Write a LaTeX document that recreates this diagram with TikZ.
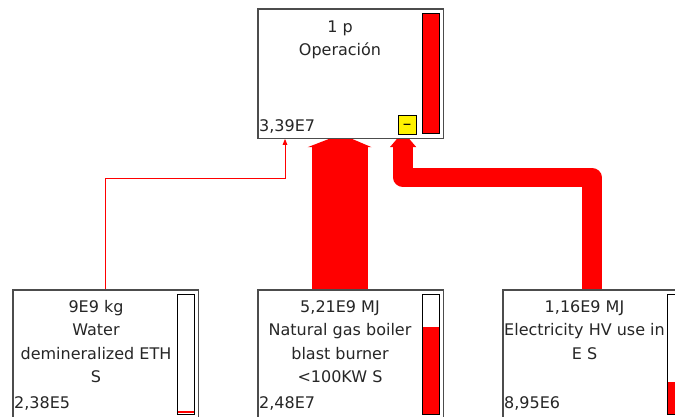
\documentclass[tikz,border=0pt]{standalone}
\usepackage{fontspec}
\setmainfont{DejaVu Sans}
\usetikzlibrary{calc,arrows.meta}
\begin{document}
\begin{tikzpicture}[x=1pt,y=-1pt,
  box/.style={draw=black!70, line width=1.2pt, fill=white, rectangle, minimum width=184pt, minimum height=128pt, inner sep=0pt, anchor=north west},
  bar/.style={draw=black, line width=1pt},
  txt/.style={font=\fontsize{16}{19}\selectfont, text=black!85, inner sep=0pt, anchor=base},
  val/.style={txt, anchor=base west},
]
\useasboundingbox (0,0) rectangle (675,416);
\clip (0,0) rectangle (675,416);
% boxes (positions only, drawn later)
\path (258,9) node[box, draw=none, fill=none] (top) {}
      (13,290) node[box, draw=none, fill=none] (wat) {}
      (258,290) node[box, draw=none, fill=none] (gas) {}
      (503,290) node[box, draw=none, fill=none] (ele) {};
% connectors
\coordinate (lj) at (285,178);
\draw[red, line width=1pt, -{Triangle[width=4.5pt,length=6pt]}, shorten >=0.6pt] (wat.north) |- (lj) -- (lj |- top.south);
\coordinate (gx) at ($(top.south)+(-11,9)$);
\draw[red, line width=56pt] (gx |- gas.north) -- (gx);
\fill[red] ($(gx)+(-32,0)$) -- ($(gx)+(-10,-8.5)$) -- ($(gx)+(12,-8.5)$) -- ($(gx)+(32,0)$) -- cycle;
\coordinate (rx) at ($(top.south)+(52.5,9)$);
\coordinate (r1) at (592,177.5);
\draw[red, line width=19.5pt, line join=round] (r1 |- ele.north) -- (r1) -- (r1 -| rx) -- (rx);
\fill[red] ($(rx)+(-13.25,0)$) -- ($(rx)+(-6,-8.5)$) -- ($(rx)+(6,-8.5)$) -- ($(rx)+(13.25,0)$) -- cycle;
% visible boxes
\foreach \b in {top,wat,gas,ele}{
  \draw[draw=black!70, line width=1.2pt, fill=white] (\b.north west) rectangle (\b.south east);
}
% bars
\draw[bar, fill=red] ($(top.north west)+(164,4)$) rectangle ($(top.north west)+(181,124)$);
\draw[bar, fill=white] ($(wat.north west)+(164,4)$) rectangle ($(wat.north west)+(181,124)$);
\fill[red] ($(wat.north west)+(164,121)$) rectangle ($(wat.north west)+(181,123)$);
\draw[bar] ($(wat.north west)+(164,4)$) rectangle ($(wat.north west)+(181,124)$);
\fill[red] ($(gas.north west)+(164,37)$) rectangle ($(gas.north west)+(181,124)$);
\draw[bar] ($(gas.north west)+(164,4)$) rectangle ($(gas.north west)+(181,124)$);
\fill[red] ($(ele.north west)+(164,92)$) rectangle ($(ele.north west)+(181,124)$);
\draw[bar] ($(ele.north west)+(164,4)$) rectangle ($(ele.north west)+(181,124)$);
% yellow marker
\node[draw=black, line width=1pt, fill=yellow, minimum width=18pt, minimum height=19pt, inner sep=0pt,
      font=\fontsize{17}{19}\selectfont] (ybox) at (407,124.5) {\smash{\raisebox{-4.8pt}{\textendash}}};
% texts
\node[txt] (t1) at (340,32) {1 p};
\node[txt] (t2) at (340,55.5) {Operación};
\node[val] (t3) at (259,131) {3,39E7};
\node[txt] (w1) at (96,312) {9E9 kg};
\node[txt] (w2) at (96,335.5) {Water};
\node[txt] (w3) at (96,359) {demineralized ETH};
\node[txt] (w4) at (96,382) {S};
\node[val] (w5) at (14,408) {2,38E5};
\node[txt] (g1) at (340,312) {5,21E9 MJ};
\node[txt] (g2) at (340,335.5) {Natural gas boiler};
\node[txt] (g3) at (340,359) {blast burner};
\node[txt] (g4) at (340,382) {<100KW S};
\node[val] (g5) at (259,408) {2,48E7};
\node[txt] (e1) at (584.5,312) {1,16E9 MJ};
\node[txt] (e2) at (584.5,335.5) {Electricity HV use in};
\node[txt] (e3) at (584.5,359) {E S};
\node[val] (e4) at (504,408) {8,95E6};
\end{tikzpicture}
\end{document}
